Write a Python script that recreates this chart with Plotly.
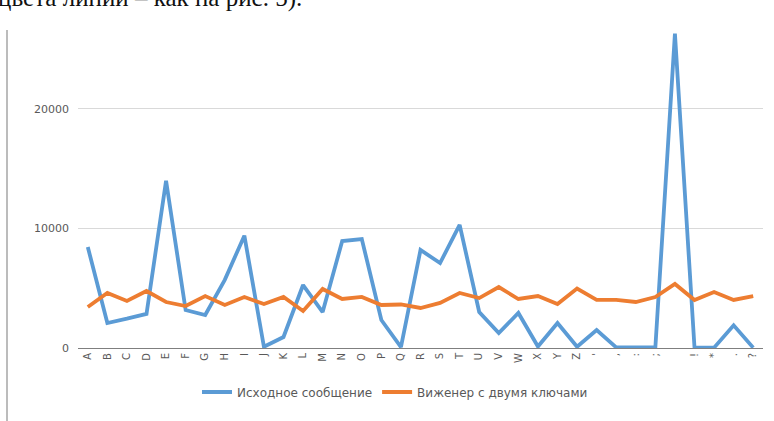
import plotly.graph_objects as go

categories = list("ABCDEFGHIJKLMNOPQRSTUVWXYZ") + ["'", ",", ":", ";", " ", "!", "*", ".", "?"]

original = [8450, 2090, 2450, 2850, 14000, 3180, 2760, 5700, 9400, 100,
            920, 5270, 3010, 8950, 9120, 2340, 80, 8200, 7110, 10300,
            3010, 1250, 2930, 120, 2090, 100, 1500, 50, 40, 50,
            26300, 40, 30, 1900, 30]

vigenere = [3430, 4600, 3930, 4770, 3850, 3510, 4350, 3600, 4270, 3680,
            4270, 3100, 4940, 4100, 4270, 3600, 3640, 3350, 3770, 4600,
            4180, 5100, 4100, 4350, 3680, 4980, 4020, 4020, 3850, 4270,
            5360, 4020, 4690, 4020, 4350]

series_names = ["Исходное сообщение", "Виженер с двумя ключами"]
colors = ["#5b9bd5", "#ed7d31"]

fig = go.Figure()
for name, vals, col in zip(series_names, [original, vigenere], colors):
    fig.add_trace(go.Scatter(x=categories, y=vals, mode="lines", name=name,
                             line=dict(color=col, width=3.8)))

W, H = 774, 421
ml, mr, mt, mb = 78, 11, 0, 73
ph = H - mt - mb
pw = W - ml - mr

fig.update_layout(
    width=W, height=H,
    margin=dict(l=ml, r=mr, t=mt, b=mb, autoexpand=False),
    paper_bgcolor="white", plot_bgcolor="white",
    font=dict(family="DejaVu Sans, sans-serif", color="#595959", size=10),
    showlegend=True,
    legend=dict(orientation="h", x=(395 - ml) / pw, xanchor="center",
                y=-(392 - 348) / ph, yanchor="middle",
                font=dict(size=12, color="#595959"), itemwidth=30),
    xaxis=dict(type="category", tickangle=-90, showgrid=False, showline=True,
               linecolor="#7f7f7f", linewidth=1, ticks="", automargin=False,
               tickfont=dict(size=10, color="#595959"), range=[-0.5, len(categories) - 0.5]),
    yaxis=dict(range=[0, 29120], dtick=10000, tickformat="d", showgrid=True,
               gridcolor="#d9d9d9", gridwidth=1, zeroline=False, showline=False,
               ticks="", automargin=False,
               tickfont=dict(size=11, color="#595959"), ticklabelstandoff=8),
)

# left border of the chart frame
fig.add_shape(type="line", xref="paper", yref="paper",
              x0=(7 - ml) / pw, x1=(7 - ml) / pw,
              y0=1 - 30 / ph, y1=-(mb) / ph,
              line=dict(color="#a6a6a6", width=1.5))

# cropped document text at the very top
fig.add_annotation(text="цвета линий – как на рис. 5).", xref="paper", yref="paper",
                   x=(-4 - ml) / pw, y=1 + 2 / ph, xanchor="left", yanchor="middle",
                   showarrow=False,
                   font=dict(family="Liberation Serif, Times New Roman, serif", size=25, color="#111111"))

fig.write_html("out.html")
